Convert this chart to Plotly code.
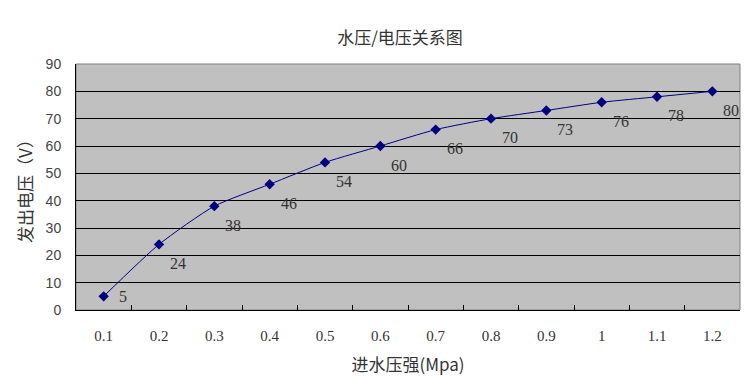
import plotly.graph_objects as go

categories = ["0.1", "0.2", "0.3", "0.4", "0.5", "0.6", "0.7", "0.8", "0.9", "1", "1.1", "1.2"]
voltage = [5, 24, 38, 46, 54, 60, 66, 70, 73, 76, 78, 80]
y_ticks = [0, 10, 20, 30, 40, 50, 60, 70, 80, 90]

title_text = "水压/电压关系图"
x_title = "进水压强(Mpa)"
y_title = "发出电压（V）"

cjk = "Noto Sans CJK SC"
serif = "Liberation Serif"
num_font = "Liberation Sans"

fig = go.Figure()
fig.add_trace(go.Scatter(
    x=categories, y=voltage, mode="lines+markers",
    line=dict(color="#000080", width=1, shape="spline", smoothing=0.6),
    marker=dict(symbol="diamond", size=8, color="#000080"),
    hoverinfo="skip", showlegend=False,
))

annotations = []
for i, v in enumerate(voltage):
    ly = max(v - 7, 4.8)
    annotations.append(dict(
        x=i, y=ly, xref="x", yref="y", text=str(v), showarrow=False,
        xanchor="center", yanchor="middle", xshift=19,
        font=dict(family=serif, size=16, color="#333333"),
    ))

W, H = 748, 373
fig.update_layout(
    width=W, height=H,
    margin=dict(l=68, r=16, t=56, b=71),
    paper_bgcolor="white", plot_bgcolor="#c0c0c0",
    title=dict(text=title_text, x=392 / W, xanchor="center", y=1 - 30 / H, yanchor="middle",
               font=dict(family=cjk, size=17, color="#333333")),
    annotations=annotations,
    xaxis=dict(
        type="category", range=[-0.5, 11.5], automargin=False,
        showgrid=False, showline=True, linecolor="#000000", linewidth=1, mirror=False,
        ticks="inside", tickson="boundaries", ticklen=5, tickcolor="#000000",
        ticklabelstandoff=12,
        tickfont=dict(family=serif, size=15, color="#333333"),
        title=dict(text=x_title, standoff=16, font=dict(family=cjk, size=17, color="#333333")),
        zeroline=False,
    ),
    yaxis=dict(
        range=[0, 90], tickvals=y_ticks, automargin=False,
        showgrid=True, gridcolor="#000000", gridwidth=1,
        showline=True, linecolor="#000000", linewidth=1,
        ticks="", ticklabelstandoff=11,
        tickfont=dict(family=num_font, size=14, color="#444444"),
        title=dict(text=y_title, standoff=8, font=dict(family=cjk, size=17, color="#333333")),
        zeroline=False,
    ),
    shapes=[dict(type="rect", xref="paper", yref="paper", x0=0, x1=1, y0=0, y1=1,
                 line=dict(color="#808080", width=1), layer="below")],
)

fig.write_html("out.html")
